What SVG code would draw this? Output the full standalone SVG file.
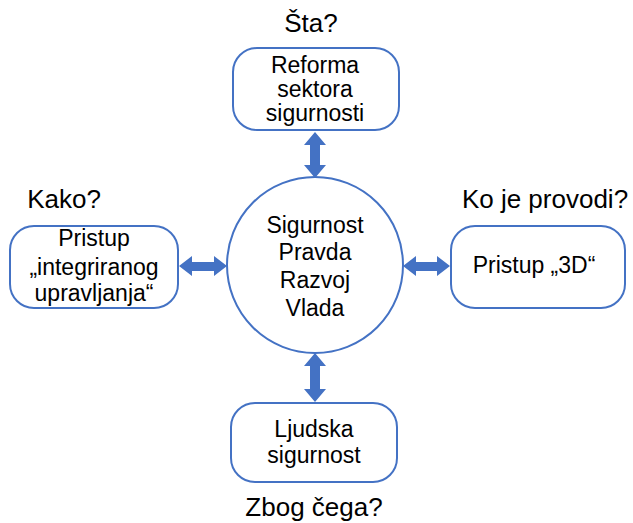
<svg xmlns="http://www.w3.org/2000/svg" width="633" height="523" viewBox="0 0 633 523">
<style>
.box{fill:#fff;stroke:#4472C4;stroke-width:2}
.t{font-family:"Liberation Sans",Arial,sans-serif;font-size:23px;fill:#000;text-anchor:middle}
.q{font-family:"Liberation Sans",Arial,sans-serif;font-size:26px;fill:#000;text-anchor:middle}
.arr{fill:#4472C4}
</style>
<rect width="633" height="523" fill="#fff"/>
<g id="connectors">
<polygon class="arr" points="315,132 326,145 320,145 320,165 326,165 315,178 304,165 310,165 310,145 304,145"/>
<polygon class="arr" points="315,353 326,366 320,366 320,389 326,389 315,402 304,389 310,389 310,366 304,366"/>
<polygon class="arr" points="179,266 192,256 192,262 214,262 214,256 227,266 214,276 214,271 192,271 192,276"/>
<polygon class="arr" points="403,266 416,256 416,262 437,262 437,256 450,266 437,276 437,271 416,271 416,276"/>
</g>
<g id="center">
<circle class="box" cx="315" cy="265" r="88"/>
<text class="t" x="315" y="233">Sigurnost</text>
<text class="t" x="315" y="260">Pravda</text>
<text class="t" x="315" y="288">Razvoj</text>
<text class="t" x="315" y="316">Vlada</text>
</g>
<g id="top">
<text class="q" x="311" y="32">Šta?</text>
<rect class="box" x="233" y="48" width="166" height="82" rx="24"/>
<text class="t" x="315" y="73">Reforma</text>
<text class="t" x="315" y="97">sektora</text>
<text class="t" x="315" y="121">sigurnosti</text>
</g>
<g id="left">
<text class="q" x="64" y="208">Kako?</text>
<rect class="box" x="10" y="226" width="168" height="82" rx="24"/>
<text class="t" x="94" y="246">Pristup</text>
<text class="t" x="94" y="275">„integriranog</text>
<text class="t" x="94" y="301">upravljanja“</text>
</g>
<g id="right">
<text class="q" x="545" y="208">Ko je provodi?</text>
<rect class="box" x="451" y="226" width="174" height="82" rx="24"/>
<text class="t" x="534" y="273">Pristup „3D“</text>
</g>
<g id="bottom">
<rect class="box" x="231" y="403" width="166" height="79" rx="24"/>
<text class="t" x="314" y="437">Ljudska</text>
<text class="t" x="314" y="463">sigurnost</text>
<text class="q" x="314" y="516">Zbog čega?</text>
</g>
</svg>
